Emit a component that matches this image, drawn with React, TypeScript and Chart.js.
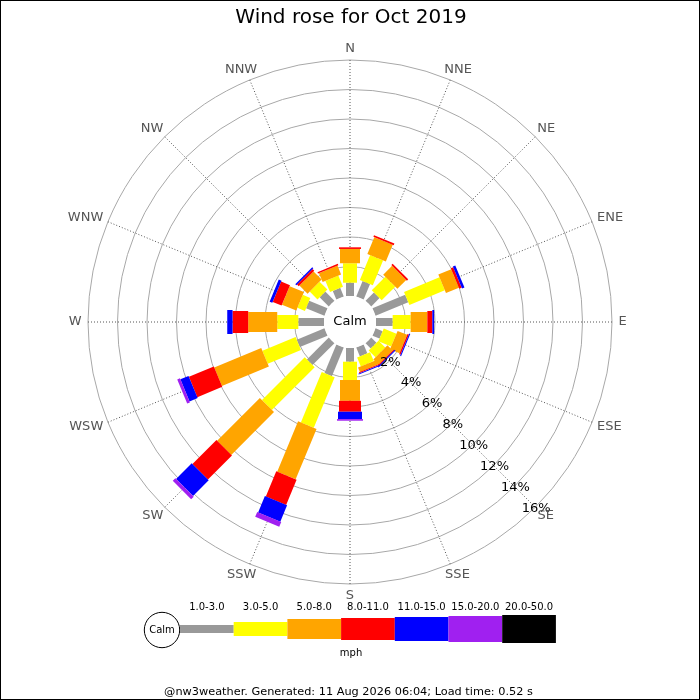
import React, { useEffect, useRef } from "react";
import { Chart, registerables } from "chart.js";

Chart.register(...registerables);

// ---------- data ----------
const directions = ["N", "NNE", "NE", "ENE", "E", "ESE", "SE", "SSE", "S", "SSW", "SW", "WSW", "W", "WNW", "NW", "NNW"];
const speedClasses = ["1.0-3.0", "3.0-5.0", "5.0-8.0", "8.0-11.0", "11.0-15.0", "15.0-20.0", "20.0-50.0"];
// percentage of the month per direction, for each speed class (mph)
const speed1to3 = [0.90, 1.13, 0.80, 2.40, 1.13, 0.52, 0.50, 0.65, 0.93, 2.10, 2.10, 2.03, 1.74, 1.35, 0.88, 0.63];
const speed3to5 = [1.32, 1.82, 1.30, 2.60, 1.22, 0.93, 0.65, 0.65, 1.24, 3.70, 4.10, 2.44, 1.43, 0.55, 0.75, 0.82];
const speed5to8 = [0.97, 1.23, 0.85, 0.95, 1.13, 0.70, 0.50, 0.32, 1.41, 3.70, 4.10, 3.45, 1.97, 1.05, 0.78, 0.65];
const speed8to11 = [0.11, 0.12, 0.12, 0.17, 0.34, 0.10, 0.07, 0.07, 0.74, 1.85, 2.30, 1.83, 1.06, 0.65, 0.16, 0.10];
const speed11to15 = [0, 0, 0, 0.18, 0.12, 0.07, 0.07, 0.07, 0.50, 1.20, 1.50, 0.60, 0.36, 0.20, 0.10, 0];
const speed15to20 = [0, 0, 0, 0, 0, 0, 0, 0, 0.11, 0.35, 0.25, 0.20, 0, 0, 0, 0];
const speed20to50 = [0, 0, 0, 0, 0, 0, 0, 0, 0, 0, 0, 0, 0, 0, 0, 0];
const radialTicks = [2, 4, 6, 8, 10, 12, 14, 16];
const tickLabelDirection = "SE";
const unitLabel = "mph";
const calmLabel = "Calm";
const titleText = "Wind rose for Oct 2019";
const footerText = "@nw3weather. Generated: 11 Aug 2026 06:04; Load time: 0.52 s";

// ---------- styles ----------
const classColors = ["#999999", "#ffff00", "#ffa500", "#ff0000", "#0000ff", "#a020f0", "#000000"];
const classWidths = [8, 14, 20, 22, 24, 26, 28];
const FONT = "'DejaVu Sans', 'Liberation Sans', sans-serif";
const OUTER_R = 262;
const CALM_R = 26;
const TOP_PCT = radialTicks[radialTicks.length - 1];
const calmOffset = (CALM_R * TOP_PCT) / (OUTER_R - CALM_R);

const rosePlugin = {
  id: "rosePlugin",
  beforeDatasetsDraw(chart: any) {
    const scale = chart.scales.r;
    const ctx = chart.ctx as CanvasRenderingContext2D;
    ctx.save();
    // stacked radial bars
    directions.forEach((_, i) => {
      let cum = 0;
      chart.data.datasets.forEach((ds: any, k: number) => {
        const v = ds.data[i];
        if (!v) return;
        const p0 = scale.getPointPositionForValue(i, cum);
        const p1 = scale.getPointPositionForValue(i, cum + v);
        ctx.beginPath();
        ctx.lineCap = "butt";
        ctx.lineWidth = classWidths[k];
        ctx.strokeStyle = classColors[k];
        ctx.moveTo(p0.x, p0.y);
        ctx.lineTo(p1.x, p1.y);
        ctx.stroke();
        cum += v;
      });
    });
    // calm disc
    const rc = scale.getDistanceFromCenterForValue(0);
    ctx.beginPath();
    ctx.arc(scale.xCenter, scale.yCenter, rc, 0, Math.PI * 2);
    ctx.fillStyle = "#ffffff";
    ctx.fill();
    ctx.fillStyle = "#000000";
    ctx.font = `13px ${FONT}`;
    ctx.textAlign = "center";
    ctx.textBaseline = "middle";
    ctx.fillText(calmLabel, scale.xCenter, scale.yCenter);
    // percentage labels
    const ti = directions.indexOf(tickLabelDirection);
    radialTicks.forEach((t) => {
      const p = scale.getPointPositionForValue(ti, t);
      ctx.fillText(`${t}%`, p.x + 1, p.y + 1);
    });
    // direction labels
    ctx.fillStyle = "#555555";
    const halfH = 4.8;
    directions.forEach((d, i) => {
      const w = ctx.measureText(d).width;
      const base = scale.getPointPosition(i, 100);
      const ux = (base.x - scale.xCenter) / 100;
      const uy = (base.y - scale.yCenter) / 100;
      const p = scale.getPointPosition(i, scale.drawingArea + 6.5);
      ctx.fillText(d, p.x + ux * w / 2, p.y + uy * halfH);
    });
    ctx.restore();
  },
  afterDraw(chart: any) {
    const ctx = chart.ctx as CanvasRenderingContext2D;
    ctx.save();
    ctx.textAlign = "center";
    ctx.textBaseline = "middle";
    // title
    ctx.fillStyle = "#000000";
    ctx.font = `20px ${FONT}`;
    ctx.fillText(titleText, 351, 18);
    // legend
    const lx = 180;
    const ly = 629;
    const segW = 53.7;
    ctx.beginPath();
    ctx.arc(162, 630, 17.7, 0, Math.PI * 2);
    ctx.fillStyle = "#ffffff";
    ctx.fill();
    ctx.lineWidth = 1;
    ctx.strokeStyle = "#000000";
    ctx.stroke();
    ctx.fillStyle = "#000000";
    ctx.font = `10px ${FONT}`;
    ctx.fillText(calmLabel, 162, 630);
    speedClasses.forEach((lab, k) => {
      const x0 = lx + k * segW;
      ctx.fillStyle = classColors[k];
      ctx.fillRect(x0, ly - classWidths[k] / 2, segW, classWidths[k]);
      ctx.fillStyle = "#000000";
      ctx.fillText(lab, x0 + segW / 2, 607.5);
    });
    ctx.fillText(unitLabel, 351, 653);
    // footer
    ctx.font = `11.3px ${FONT}`;
    ctx.fillText(footerText, 348.5, 692);
    // frame
    ctx.strokeStyle = "#000000";
    ctx.lineWidth = 1;
    ctx.strokeRect(0.5, 0.5, 699, 699);
    ctx.restore();
  },
};

export default function App() {
  const ref = useRef<HTMLCanvasElement | null>(null);
  useEffect(() => {
    if (!ref.current) return;
    const series = [speed1to3, speed3to5, speed5to8, speed8to11, speed11to15, speed15to20, speed20to50];
    const chart = new Chart(ref.current, {
      type: "radar",
      data: {
        labels: directions,
        datasets: series.map((data, k) => ({
          label: speedClasses[k],
          data,
          borderWidth: 0,
          borderColor: "rgba(0,0,0,0)",
          backgroundColor: "rgba(0,0,0,0)",
          pointRadius: 0,
          pointHoverRadius: 0,
          fill: false,
          showLine: false,
        })),
      },
      options: {
        animation: false,
        responsive: false,
        events: [],
        layout: { padding: { left: 88, right: 88, top: 60, bottom: 116 } },
        plugins: {
          legend: { display: false },
          title: { display: false },
          tooltip: { enabled: false },
        },
        scales: {
          r: {
            min: -calmOffset,
            max: TOP_PCT,
            afterBuildTicks: (scale: any) => {
              scale.ticks = radialTicks.map((v) => ({ value: v }));
            },
            ticks: { display: false },
            pointLabels: { display: false },
            grid: {
              circular: true,
              color: "#a8a8a8",
              lineWidth: 1,
            },
            angleLines: {
              display: true,
              color: "#555555",
              lineWidth: 1,
              borderDash: [1, 2],
            },
          },
        },
      } as any,
      plugins: [rosePlugin],
    });
    return () => chart.destroy();
  }, []);
  return (
    <div style={{ position: "fixed", left: 0, top: 0, width: 700, height: 700, background: "#ffffff" }}>
      <canvas ref={ref} width={700} height={700} style={{ display: "block" }} />
    </div>
  );
}
